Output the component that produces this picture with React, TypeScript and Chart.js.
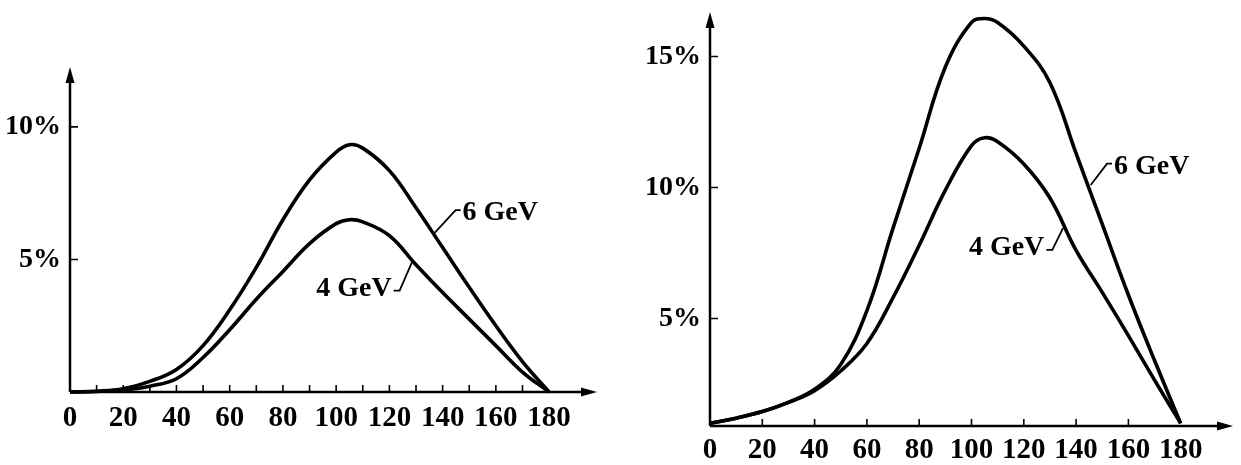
import React, { useEffect, useRef } from 'react';
import { Chart, registerables } from 'chart.js';
Chart.register(...registerables);

// ---------- data ----------
const angles = [0, 10, 20, 30, 40, 50, 60, 70, 80, 90, 100, 105, 110, 120, 130, 140, 150, 160, 170, 180];

const left6GeV = [0, 0.03, 0.12, 0.4, 0.85, 1.75, 3.1, 4.7, 6.5, 8.0, 9.05, 9.33, 9.2, 8.35, 6.95, 5.45, 3.95, 2.5, 1.15, 0];
const left4GeV = [0, 0.02, 0.08, 0.22, 0.5, 1.3, 2.35, 3.5, 4.55, 5.6, 6.35, 6.5, 6.42, 5.9, 4.8, 3.75, 2.75, 1.75, 0.75, 0];

const right6GeV = [1.0, 1.2, 1.45, 1.8, 2.3, 3.25, 5.3, 8.45, 11.5, 14.6, 16.3, 16.45, 16.3, 15.4, 14.0, 11.3, 8.6, 5.9, 3.4, 1.0];
const right4GeV = [1.0, 1.2, 1.45, 1.8, 2.25, 3.0, 4.05, 5.8, 7.8, 9.9, 11.6, 11.9, 11.75, 10.9, 9.6, 7.6, 6.0, 4.35, 2.65, 1.0];

const xTickLabels = [0, 20, 40, 60, 80, 100, 120, 140, 160, 180];
const leftYTicks = [5, 10];
const rightYTicks = [5, 10, 15];
const leftMinorX = [10, 20, 30, 40, 50, 60, 70, 80, 90, 100, 110, 120, 130, 140, 150, 160, 170];
const rightMinorX = [20, 40, 60, 80, 100, 120, 140, 160];

const seriesNames = ['6 GeV', '4 GeV'];

const FONT = '"Liberation Serif", "Times New Roman", serif';

const decorPlugin = {
  id: 'decor',
  afterDraw(chart: any, _args: any, opts: any) {
    const { ctx, chartArea } = chart;
    const xs = chart.scales.x;
    const ys = chart.scales.y;
    const ox = chartArea.left;
    const oy = chartArea.bottom;
    ctx.save();
    ctx.strokeStyle = '#000';
    ctx.fillStyle = '#000';
    ctx.lineWidth = 2.5;
    // axes
    ctx.beginPath();
    ctx.moveTo(ox, oy);
    ctx.lineTo(chartArea.right - 8, oy);
    ctx.moveTo(ox, oy);
    ctx.lineTo(ox, chartArea.top + 8);
    ctx.stroke();
    // arrowheads
    ctx.beginPath();
    ctx.moveTo(chartArea.right, oy);
    ctx.lineTo(chartArea.right - 16, oy - 4.5);
    ctx.lineTo(chartArea.right - 16, oy + 4.5);
    ctx.closePath();
    ctx.fill();
    ctx.beginPath();
    ctx.moveTo(ox, chartArea.top);
    ctx.lineTo(ox - 4.5, chartArea.top + 16);
    ctx.lineTo(ox + 4.5, chartArea.top + 16);
    ctx.closePath();
    ctx.fill();
    // minor ticks
    ctx.lineWidth = 1.6;
    ctx.beginPath();
    for (const v of opts.minorX) {
      const px = xs.getPixelForValue(v);
      ctx.moveTo(px, oy);
      ctx.lineTo(px, oy - 7);
    }
    for (const v of opts.yTicks) {
      const py = ys.getPixelForValue(v);
      ctx.moveTo(ox, py);
      ctx.lineTo(ox + 8, py);
    }
    ctx.stroke();
    // labels with leader lines
    ctx.font = `bold 28px ${FONT}`;
    ctx.textBaseline = 'middle';
    ctx.textAlign = 'left';
    ctx.lineWidth = 1.8;
    for (const a of opts.labels) {
      const tx = xs.getPixelForValue(a.x);
      const ty = ys.getPixelForValue(a.y);
      ctx.fillText(a.text, tx, ty);
      const w = ctx.measureText(a.text).width;
      const p1 = a.side === 'left' ? [tx - 2, ty - 3] : [tx + w + 2, ty + 2];
      const hook = a.side === 'left' ? [p1[0] - 5, p1[1]] : [p1[0] + 6, p1[1]];
      const p2 = [xs.getPixelForValue(a.to[0]), ys.getPixelForValue(a.to[1])];
      ctx.beginPath();
      ctx.moveTo(p1[0], p1[1]);
      ctx.lineTo(hook[0], hook[1]);
      ctx.lineTo(p2[0], p2[1]);
      ctx.stroke();
    }
    ctx.restore();
  },
};

function makeConfig(p: any) {
  const toPts = (ys: number[]) => angles.map((a, i) => ({ x: a, y: ys[i] }));
  return {
    type: 'line',
    data: {
      datasets: [
        { label: seriesNames[0], data: toPts(p.s6) },
        { label: seriesNames[1], data: toPts(p.s4) },
      ].map((d) => ({
        ...d,
        borderColor: '#000',
        borderWidth: 3.6,
        pointRadius: 0,
        fill: false,
        tension: 0.4,
        clip: false,
      })),
    },
    options: {
      animation: false,
      responsive: false,
      devicePixelRatio: 1,
      layout: { padding: p.padding },
      plugins: {
        legend: { display: false },
        tooltip: { enabled: false },
        decor: { minorX: p.minorX, yTicks: p.yTicks, labels: p.labels },
      },
      scales: {
        x: {
          type: 'linear',
          min: 0,
          max: p.xMax,
          grid: { display: false, drawTicks: false },
          border: { display: false },
          afterBuildTicks: (s: any) => {
            s.ticks = xTickLabels.map((v) => ({ value: v }));
          },
          afterFit: (s: any) => {
            s.height = p.xAxisHeight;
            s.paddingLeft = 0;
            s.paddingRight = 0;
          },
          ticks: {
            autoSkip: false,
            maxRotation: 0,
            padding: p.xPad,
            color: '#000',
            font: { family: FONT, size: 29, weight: 'bold' },
            callback: (v: any) => String(v),
          },
        },
        y: {
          type: 'linear',
          min: p.yMin,
          max: p.yMax,
          grid: { display: false, drawTicks: false },
          border: { display: false },
          afterBuildTicks: (s: any) => {
            s.ticks = p.yTicks.map((v: number) => ({ value: v }));
          },
          afterFit: (s: any) => {
            s.width = p.yAxisWidth;
            s.paddingTop = 0;
            s.paddingBottom = 0;
          },
          ticks: {
            padding: 9,
            color: '#000',
            font: { family: FONT, size: 28, weight: 'bold' },
            callback: (v: any) => v + '%',
          },
        },
      },
    },
    plugins: [decorPlugin],
  };
}

const leftParams = {
  s6: left6GeV,
  s4: left4GeV,
  xMax: 198,
  yMin: 0,
  yMax: 12.26,
  padding: { left: 0, right: 23, top: 67, bottom: 0 },
  yAxisWidth: 70,
  xAxisHeight: 73,
  xPad: 9,
  minorX: leftMinorX,
  yTicks: leftYTicks,
  labels: [
    { text: '6 GeV', x: 147.5, y: 6.75, side: 'left', to: [137, 6.0] },
    { text: '4 GeV', x: 92.5, y: 3.9, side: 'right', to: [128.5, 4.9] },
  ],
};

const rightParams = {
  s6: right6GeV,
  s4: right4GeV,
  xMax: 200,
  yMin: 0.9,
  yMax: 16.7,
  padding: { left: 0, right: 8, top: 12, bottom: 0 },
  yAxisWidth: 90,
  xAxisHeight: 39,
  xPad: 7,
  minorX: rightMinorX,
  yTicks: rightYTicks,
  labels: [
    { text: '6 GeV', x: 154.5, y: 10.8, side: 'left', to: [145.6, 10.1] },
    { text: '4 GeV', x: 99, y: 7.7, side: 'right', to: [135, 8.45] },
  ],
};

function ChartCanvas({ params, width, left }: { params: any; width: number; left: number }) {
  const ref = useRef<HTMLCanvasElement>(null);
  useEffect(() => {
    if (!ref.current) return;
    const chart = new Chart(ref.current, makeConfig(params) as any);
    return () => chart.destroy();
  }, [params]);
  return (
    <canvas
      ref={ref}
      width={width}
      height={465}
      style={{ position: 'absolute', left, top: 0, width, height: 465 }}
    />
  );
}

export default function App() {
  return (
    <div style={{ position: 'fixed', left: 0, top: 0, width: 1241, height: 465, background: '#fff' }}>
      <ChartCanvas params={leftParams} width={620} left={0} />
      <ChartCanvas params={rightParams} width={621} left={620} />
    </div>
  );
}
